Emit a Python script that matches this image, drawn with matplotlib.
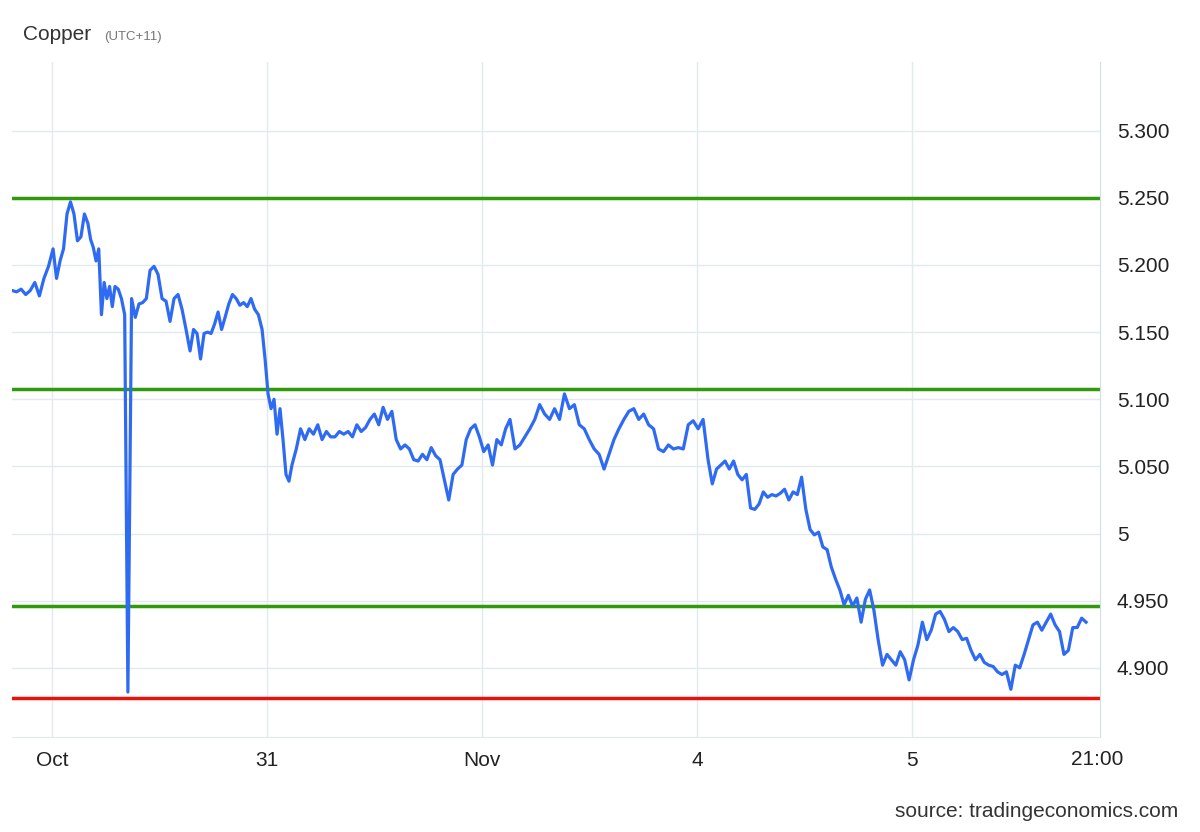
import numpy as np
import matplotlib
matplotlib.use("Agg")
import matplotlib.pyplot as plt
from matplotlib.ticker import FixedLocator

plt.rcParams['font.family'] = ['Liberation Sans', 'DejaVu Sans']

prices = [5.181,5.180,5.182,5.178,5.181,5.187,5.177,5.190,5.199,5.212,5.190,5.203,5.212,5.238,5.247,5.238,5.218,5.221,5.238,5.231,
5.219,5.213,5.203,5.212,5.163,5.187,5.175,5.184,5.169,5.184,5.182,5.175,5.163,4.882,5.175,5.161,5.171,5.172,5.175,5.196,
5.199,5.193,5.175,5.173,5.158,5.175,5.178,5.167,5.152,5.136,5.152,5.149,5.130,5.149,5.150,5.149,5.156,5.165,5.152,5.161,
5.171,5.178,5.175,5.170,5.172,5.169,5.175,5.167,5.163,5.152,5.130,5.104,5.093,5.100,5.074,5.093,5.070,5.044,5.039,5.051,
5.063,5.078,5.070,5.078,5.074,5.081,5.070,5.076,5.072,5.072,5.076,5.074,5.076,5.072,5.081,5.076,5.079,5.085,5.089,5.081,
5.094,5.085,5.091,5.070,5.063,5.066,5.063,5.055,5.054,5.059,5.055,5.064,5.058,5.055,5.040,5.025,5.044,5.048,5.051,5.070,
5.078,5.081,5.072,5.061,5.066,5.051,5.070,5.066,5.078,5.085,5.063,5.066,5.072,5.078,5.085,5.096,5.089,5.085,5.093,5.085,
5.104,5.093,5.096,5.081,5.078,5.070,5.063,5.059,5.048,5.059,5.070,5.078,5.085,5.091,5.093,5.085,5.089,5.081,5.078,5.063,
5.061,5.066,5.063,5.064,5.063,5.081,5.084,5.078,5.085,5.055,5.037,5.048,5.051,5.054,5.048,5.054,5.044,5.040,5.044,5.019,
5.018,5.022,5.031,5.027,5.029,5.028,5.030,5.033,5.025,5.031,5.029,5.042,5.018,5.003,4.999,5.001,4.990,4.988,4.975,4.966,
4.958,4.947,4.954,4.946,4.952,4.934,4.951,4.958,4.943,4.921,4.902,4.910,4.906,4.902,4.912,4.906,4.891,4.906,4.917,4.934,
4.921,4.928,4.940,4.942,4.936,4.927,4.930,4.927,4.921,4.922,4.913,4.906,4.910,4.904,4.902,4.901,4.897,4.895,4.897,4.884,
4.902,4.900,4.910,4.921,4.932,4.934,4.928,4.934,4.940,4.932,4.927,4.910,4.913,4.930,4.930,4.937,4.934]

# sample timestamps (days since Oct 30 00:00), known at these sample indices
time_anchor_idx = [0, 9, 19, 29, 33, 39, 49, 59, 69, 79, 89, 129, 169, 209, 256]
time_anchor_day = [-0.186, 0.005, 0.167, 0.293, 0.353, 0.456, 0.642, 0.805, 0.977, 1.116, 1.316, 2.130, 3.051, 3.842, 4.809]

resistance_levels = [5.250, 5.1075, 4.946]
support_levels = [4.8775]
yticks = [4.90, 4.95, 5.00, 5.05, 5.10, 5.15, 5.20, 5.25, 5.30]
ytick_labels = ["4.900", "4.950", "5", "5.050", "5.100", "5.150", "5.200", "5.250", "5.300"]
xtick_pos = [0, 1, 2, 3, 4, 4.86]
xtick_labels = ["Oct", "31", "Nov", "4", "5", "21:00"]

t = np.interp(np.arange(len(prices)), time_anchor_idx, time_anchor_day)

fig = plt.figure(figsize=(12, 8.32), dpi=100)
ax = fig.add_axes([0.01, 0.1142, 0.9067, 0.811])
ax.set_xlim(-0.186, 4.874)
ax.set_ylim(4.8485, 5.351)

grid_c = "#e3eaee"
ax.yaxis.set_major_locator(FixedLocator(yticks))
ax.set_yticklabels(ytick_labels)
ax.set_xticks(xtick_pos[:-1])
ax.set_xticklabels(xtick_labels[:-1])
ax.grid(True, color=grid_c, linewidth=1)
ax.text(xtick_pos[-1], -0.02, xtick_labels[-1], transform=ax.get_xaxis_transform(),
        ha="center", va="top", fontsize=15, color="#222222")
ax.yaxis.tick_right()
ax.tick_params(axis="y", length=0, labelsize=15, labelcolor="#222222", pad=12)
ax.tick_params(axis="x", length=0, labelsize=15, labelcolor="#222222", pad=10)
for s in ["top", "left"]:
    ax.spines[s].set_visible(False)
ax.spines["bottom"].set_color(grid_c)
ax.spines["right"].set_color("#cfdde6")

for lv in resistance_levels:
    ax.axhline(lv, color="#2e9a0c", linewidth=2.5, zorder=2)
for lv in support_levels:
    ax.axhline(lv, color="#e8120c", linewidth=2.5, zorder=2)

ax.plot(t, prices, color="#2f6bf2", linewidth=2.3, zorder=3)

fig.text(0.019, 0.958, "Copper", fontsize=15, color="#333333", va="center")
fig.text(0.087, 0.956, "(UTC+11)", fontsize=9.5, color="#777777", va="center")
fig.text(0.982, 0.025, "source: tradingeconomics.com", fontsize=15, color="#333333", ha="right", va="center")

fig.savefig("out.png", dpi=100)
